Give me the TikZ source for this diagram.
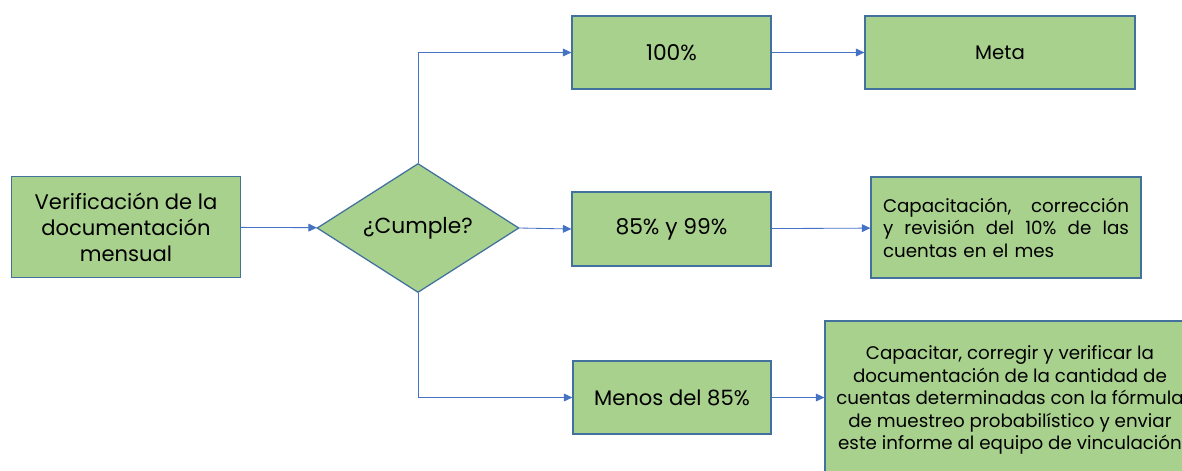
\documentclass[tikz,border=0pt]{standalone}
\usepackage{fontspec}
\setmainfont{Poppins}
\usepackage{xcolor}
\usepackage{tikz}
\usetikzlibrary{arrows.meta}
\usetikzlibrary{shapes.geometric}
\definecolor{verde}{HTML}{A9D18E}
\definecolor{borde}{HTML}{41719C}
\definecolor{linea}{HTML}{4472C4}
\tikzset{>=latex}
\tikzstyle{caja} = [rectangle, draw=borde, fill=verde, line width=0.9pt, inner sep=0pt, align=center, font=\fontsize{13}{16}\selectfont]
\tikzstyle{flecha} = [draw=linea, line width=0.6pt, -{Triangle[length=6pt, width=5.5pt]}]

\begin{document}
\begin{tikzpicture}[x=0.025cm, y=-0.025cm]
\useasboundingbox (0, 0) rectangle (1182, 470);
\node [caja, minimum width=229*0.025cm, minimum height=101*0.025cm, font=\fontsize{15}{18.5}\selectfont] (verif) at (126, 227) {Verificación de la\\documentación\\mensual};
\node [diamond, draw=borde, fill=verde, line width=0.9pt, aspect=1.57, minimum width=202*0.025cm, minimum height=129*0.025cm, inner sep=0pt, font=\fontsize{15.5}{18}\selectfont] (cumple) at (418, 228) {¿Cumple?};
\node [caja, minimum width=199*0.025cm, minimum height=73*0.025cm, font=\fontsize{15.5}{18}\selectfont] (cien) at (671.5, 52.5) {100\%};
\node [caja, minimum width=270*0.025cm, minimum height=73*0.025cm, font=\fontsize{14}{17}\selectfont] (meta) at (1000, 52.5) {Meta};
\node [caja, minimum width=199*0.025cm, minimum height=74*0.025cm, font=\fontsize{15.5}{18}\selectfont] (medio) at (671.5, 229) {85\% y 99\%};
\node [caja, minimum width=270*0.025cm, minimum height=101*0.025cm, text width=246*0.025cm, align=left] (capac) at (1006, 227.5) {Capacitación,\hfill corrección\\y\hfill revisión\hfill del\hfill 10\%\hfill de\hfill las\\cuentas en el mes\\[14pt]};
\node [caja, minimum width=198*0.025cm, minimum height=73*0.025cm, font=\fontsize{15}{18}\selectfont] (menos) at (672, 397.5) {Menos del 85\%};
\node [caja, minimum width=370*0.025cm, minimum height=158*0.025cm] (capacitar) at (1010, 400) {Capacitar, corregir y verificar la\\documentación de la cantidad de\\cuentas determinadas con la fórmula\\de muestreo probabilístico y enviar\\este informe al equipo de vinculación};
\draw [flecha] (verif) to (cumple);
\draw [flecha] (cumple.north) |- (cien.west);
\draw [flecha] (cumple.east) to (medio.west);
\draw [flecha] (cumple.south) |- (menos.west);
\draw [flecha] (cien) to (meta);
\draw [flecha] (medio) to (capac);
\draw [flecha] (menos) to (menos -| capacitar.west);
\end{tikzpicture}
\end{document}
